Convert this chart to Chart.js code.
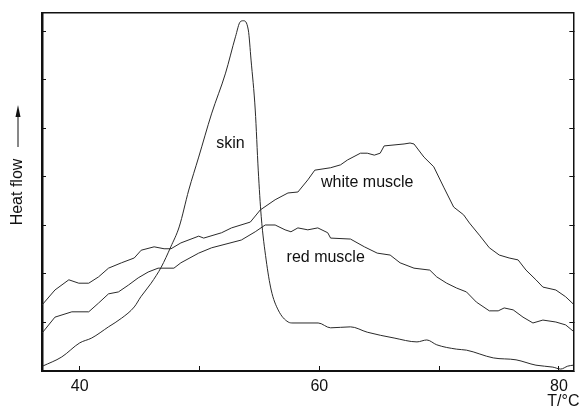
<!DOCTYPE html>
<html>
<head>
<meta charset="utf-8">
<script src="https://cdn.jsdelivr.net/npm/chart.js@4.4.1/dist/chart.umd.min.js"></script>
<style>
  body { margin: 0; background: #fff; }
  canvas { display: block; }
</style>
</head>
<body>
<canvas id="dscChart" width="579" height="408"></canvas>
<script>
// temperature (°C) / heat flow (arb. units, one tick = 1)
const skinT = [36.9, 38.5, 40.0, 41.0, 42.4, 43.5, 44.55, 45.1, 45.96, 46.8, 47.6, 48.3, 49.1, 49.93, 51.0, 52.17, 53.0, 53.4, 53.66, 54.07, 54.3, 54.65, 54.9, 55.15, 55.56, 55.98, 56.56, 57.4, 57.8, 59.9, 60.94, 62.6, 64.0, 66.24, 68.15, 68.97, 69.8, 71.46, 72.28, 74.52, 76.42, 78.08, 79.49, 80.15, 80.73, 81.2];
const skinV = [0.10, 0.29, 0.58, 0.68, 0.91, 1.09, 1.32, 1.53, 1.81, 2.14, 2.56, 2.97, 3.73, 4.41, 5.30, 6.14, 6.89, 7.20, 7.22, 7.03, 6.41, 5.38, 4.14, 3.18, 2.29, 1.67, 1.26, 1.01, 0.99, 0.99, 0.89, 0.91, 0.80, 0.68, 0.60, 0.64, 0.54, 0.45, 0.43, 0.27, 0.23, 0.12, 0.08, 0.04, 0.10, 0.12];

const whiteT = [36.85, 37.93, 39.09, 39.92, 40.75, 41.57, 42.4, 43.48, 44.55, 45.13, 46.21, 47.04, 47.62, 48.44, 49.93, 50.35, 51.84, 52.67, 54.24, 55.07, 56.31, 57.38, 58.21, 59.04, 59.62, 60.94, 61.77, 62.35, 63.43, 64.0, 64.59, 65.08, 65.41, 67.07, 67.57, 67.9, 68.73, 69.55, 70.38, 71.21, 72.04, 72.53, 73.36, 74.19, 75.02, 75.84, 76.59, 77.25, 78.08, 78.66, 79.74, 80.56, 81.2];
const whiteV = [1.36, 1.67, 1.88, 1.81, 1.81, 1.94, 2.12, 2.23, 2.33, 2.49, 2.56, 2.52, 2.52, 2.64, 2.78, 2.74, 2.85, 2.95, 3.07, 3.32, 3.53, 3.67, 3.69, 3.94, 4.14, 4.19, 4.25, 4.35, 4.49, 4.49, 4.45, 4.49, 4.64, 4.68, 4.70, 4.68, 4.41, 4.21, 3.79, 3.38, 3.22, 3.05, 2.80, 2.54, 2.39, 2.33, 2.29, 2.08, 1.88, 1.73, 1.67, 1.53, 1.38];

const redT = [36.85, 37.93, 39.34, 40.75, 41.57, 42.4, 43.23, 44.06, 44.88, 45.71, 46.54, 47.86, 48.44, 49.93, 51.01, 53.49, 54.65, 55.48, 56.31, 57.14, 57.63, 58.21, 59.04, 59.87, 60.7, 60.94, 62.6, 63.76, 64.83, 65.91, 66.74, 67.9, 69.22, 69.8, 70.63, 71.46, 72.28, 73.11, 74.19, 74.93, 75.43, 76.18, 77.0, 77.83, 78.66, 79.74, 80.56, 81.2];
const redV = [0.78, 1.11, 1.22, 1.22, 1.40, 1.59, 1.63, 1.77, 1.92, 2.04, 2.12, 2.12, 2.23, 2.43, 2.54, 2.70, 2.87, 3.01, 3.01, 2.91, 2.87, 2.95, 2.91, 2.95, 2.85, 2.74, 2.72, 2.56, 2.43, 2.39, 2.23, 2.12, 2.08, 1.94, 1.81, 1.71, 1.63, 1.42, 1.24, 1.24, 1.30, 1.26, 1.11, 0.99, 1.05, 1.01, 0.95, 0.82];

// curve labels, placed in data units
const noteText = ['skin', 'white muscle', 'red muscle'];
const noteT = [52.58, 64.0, 60.53];
const noteV = [4.68, 3.88, 2.33];

const xMin = 36.85, xMax = 81.2;
const yMin = 0, yMax = 7.38;

const INK = '#111';
const FONT = '"Liberation Sans", Arial, sans-serif';
Chart.defaults.font.family = FONT;
Chart.defaults.font.size = 16;
Chart.defaults.color = INK;

function toPoints(xs, ys) {
    return xs.map((x, i) => ({ x: x, y: ys[i] }));
}

function curve(label, xs, ys, smooth) {
    return {
        label: label,
        data: toPoints(xs, ys),
        borderColor: '#2a2a2a',
        borderWidth: 1,
        pointRadius: 0,
        fill: false,
        tension: 0,
        cubicInterpolationMode: smooth ? 'monotone' : 'default'
    };
}

// text labels, the up arrow by "Heat flow" and the T/°C caption
const annotate = {
    id: 'annotate',
    afterDraw(chart) {
        const { ctx, chartArea, scales: { x, y } } = chart;
        ctx.save();
        ctx.fillStyle = INK;
        ctx.strokeStyle = INK;
        ctx.font = '16px ' + FONT;
        ctx.textAlign = 'center';
        ctx.textBaseline = 'middle';
        noteText.forEach((t, i) => {
            ctx.fillText(t, x.getPixelForValue(noteT[i]), y.getPixelForValue(noteV[i]));
        });

        ctx.textAlign = 'left';
        ctx.fillText('T/°C', chartArea.right - 26, chartArea.bottom + 31);

        const ax = 18, tip = chartArea.top + 92, tail = chartArea.top + 134;
        ctx.lineWidth = 1;
        ctx.beginPath();
        ctx.moveTo(ax, tail);
        ctx.lineTo(ax, tip + 8);
        ctx.stroke();
        ctx.beginPath();
        ctx.moveTo(ax, tip);
        ctx.lineTo(ax - 2.5, tip + 12);
        ctx.lineTo(ax + 2.5, tip + 12);
        ctx.closePath();
        ctx.fill();
        ctx.restore();
    }
};

new Chart(document.getElementById('dscChart'), {
    type: 'line',
    data: {
        datasets: [
            curve('skin', skinT, skinV, true),
            curve('white muscle', whiteT, whiteV, false),
            curve('red muscle', redT, redV, false)
        ]
    },
    options: {
        responsive: false,
        animation: false,
        layout: { padding: 0 },
        plugins: { legend: { display: false }, tooltip: { enabled: false } },
        scales: {
            x: {
                type: 'linear', position: 'bottom', min: xMin, max: xMax,
                ticks: {
                    stepSize: 10, includeBounds: false, autoSkip: false, maxRotation: 0,
                    padding: 11, color: INK,
                    callback: v => (v % 20 === 0 ? v : '')
                },
                grid: { drawOnChartArea: false, drawTicks: true, tickLength: -5, color: INK },
                border: { color: INK, width: 2 },
                afterFit: s => { s.height = 37; }
            },
            xTop: {
                type: 'linear', position: 'top', min: xMin, max: xMax,
                ticks: { display: false },
                grid: { display: false },
                border: { color: INK, width: 1.5 },
                afterFit: s => { s.height = 13; }
            },
            y: {
                position: 'left', min: yMin, max: yMax,
                ticks: { display: false, stepSize: 1, includeBounds: false },
                grid: { drawOnChartArea: false, drawTicks: true, tickLength: -4, color: INK },
                border: { color: INK, width: 2.5 },
                title: { display: true, text: 'Heat flow', color: INK, font: { size: 16 }, padding: { top: 8 } },
                afterFit: s => { s.width = 42; }
            },
            yRight: {
                position: 'right', min: yMin, max: yMax,
                ticks: { display: false, stepSize: 1, includeBounds: false },
                grid: { drawOnChartArea: false, drawTicks: true, tickLength: -4, color: INK },
                border: { color: INK, width: 1.5 },
                afterFit: s => { s.width = 2; }
            }
        }
    },
    plugins: [annotate]
});
</script>
</body>
</html>
